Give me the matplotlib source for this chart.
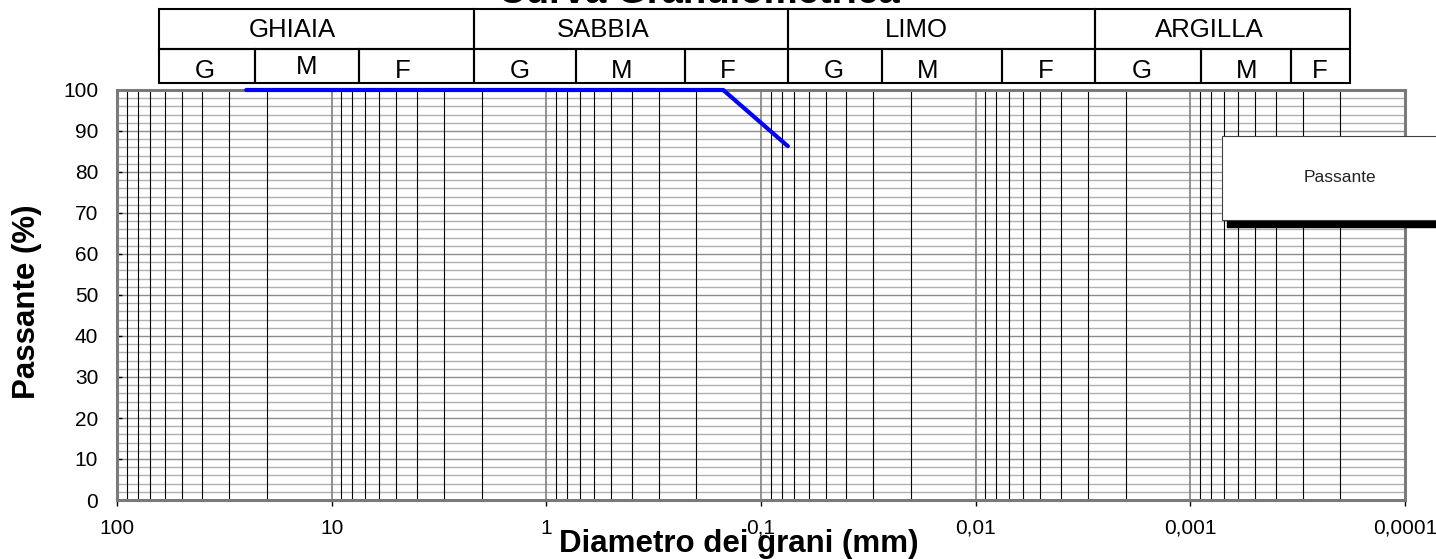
import numpy as np
import matplotlib.pyplot as plt
from matplotlib.ticker import LogLocator, MultipleLocator, NullFormatter
from matplotlib.patches import Rectangle

plt.rcParams['font.family'] = ['Liberation Sans', 'DejaVu Sans']

# dati della curva (diametro in mm, passante in %)
diametri = [25, 19, 12.5, 9.5, 4.75, 2, 0.85, 0.425, 0.25, 0.15, 0.075]
passante = [100, 100, 100, 100, 100, 100, 100, 100, 100, 100, 86.3]

x_ticks = [100, 10, 1, 0.1, 0.01, 0.001, 0.0001]
x_labels = ['100', '10', '1', '0,1', '0,01', '0,001', '0,0001']

classi = ['GHIAIA', 'SABBIA', 'LIMO', 'ARGILLA']
sottoclassi = ['G', 'M', 'F']

W, H = 1436, 559

def fx(x):
    return x / W

def fy(y):
    return 1 - y / H

# layout della tabella sopra il grafico (pixel)
bordi_classi = [159, 474, 788, 1095, 1350]
bordi_sotto = [[159, 255, 359, 474], [474, 576, 685, 788],
               [788, 882, 1002, 1095], [1095, 1201, 1291, 1350]]
pos_classi = [292, 603, 916, 1209]
pos_sotto = [[205, 307, 403], [520, 622, 728], [834, 928, 1046], [1142, 1247, 1320]]

fig = plt.figure(figsize=(W / 100, H / 100), dpi=100)
ax = fig.add_axes([fx(117), fy(500), (1405 - 117) / W, (500 - 90) / H])

ax.set_xscale('log')
ax.set_xlim(100, 0.0001)
ax.set_ylim(0, 100)

ax.set_xticks(x_ticks)
ax.set_xticklabels(x_labels)
ax.xaxis.set_minor_locator(LogLocator(base=10, subs=np.arange(2, 10), numticks=30))
ax.xaxis.set_minor_formatter(NullFormatter())
ax.yaxis.set_major_locator(MultipleLocator(10))
ax.yaxis.set_minor_locator(MultipleLocator(2))

# griglia orizzontale sotto, verticale sopra
ax.grid(True, which='major', axis='y', color='#8c8c8c', lw=1.0, zorder=0.5)
ax.grid(True, which='minor', axis='y', color='#b0b0b0', lw=1.0, zorder=0.5)
ax.set_axisbelow(True)
ax.vlines(ax.xaxis.get_minorticklocs(), 0, 100, color='black', lw=0.8, zorder=1.5)
ax.vlines(x_ticks, 0, 100, color='#808080', lw=1.2, zorder=1.5)

ax.tick_params(which='minor', length=0)
ax.tick_params(axis='x', which='major', direction='out', length=4.5, width=1,
               labelsize=15, pad=9, color='black')
ax.tick_params(axis='y', which='major', direction='in', length=3.5, width=1,
               labelsize=15, pad=13.5, color='black')
for s in ax.spines.values():
    s.set_color('#7a7a7a')
    s.set_linewidth(2.2)
    s.set_zorder(3)

ax.plot(diametri, passante, color='#0000ff', lw=3.0, clip_on=False, zorder=5,
        solid_joinstyle='round', solid_capstyle='round')

# tabella classi granulometriche
for i, nome in enumerate(classi):
    e0, e1 = bordi_classi[i], bordi_classi[i + 1]
    fig.add_artist(Rectangle((fx(e0), fy(49)), (e1 - e0) / W, 40 / H,
                             transform=fig.transFigure, fill=False,
                             edgecolor='black', lw=1.5))
    fig.text(fx(pos_classi[i]), fy(30), nome, ha='center', va='center', fontsize=18.5)
    b = bordi_sotto[i]
    for j, s in enumerate(sottoclassi):
        fig.add_artist(Rectangle((fx(b[j]), fy(83)), (b[j + 1] - b[j]) / W, 34 / H,
                                 transform=fig.transFigure, fill=False,
                                 edgecolor='black', lw=1.5))
        yy = 67.5 if (i == 0 and j == 1) else 71
        fig.text(fx(pos_sotto[i][j]), fy(yy), s, ha='center', va='center', fontsize=18.5)

# legenda
fig.add_artist(Rectangle((fx(1227), fy(227)), 240 / W, 84 / H,
                         transform=fig.transFigure, color='black', zorder=10))
fig.add_artist(Rectangle((fx(1222), fy(220)), 240 / W, 84 / H,
                         transform=fig.transFigure, facecolor='white',
                         edgecolor='#404040', lw=0.8, zorder=11))
fig.text(fx(1340), fy(178), 'Passante', ha='center', va='center', fontsize=12.5,
         color='#222222', zorder=12)

fig.text(fx(699), fy(3), 'Curva Granulometrica', ha='center', va='baseline',
         fontsize=27.5, fontweight='bold')
fig.text(fx(739), fy(552), 'Diametro dei grani (mm)', ha='center', va='baseline',
         fontsize=22.5, fontweight='bold')
fig.text(fx(27), fy(301.5), 'Passante (%)', rotation=90, ha='center', va='center',
         fontsize=22.5, fontweight='bold')

fig.savefig('out.png', dpi=100)
